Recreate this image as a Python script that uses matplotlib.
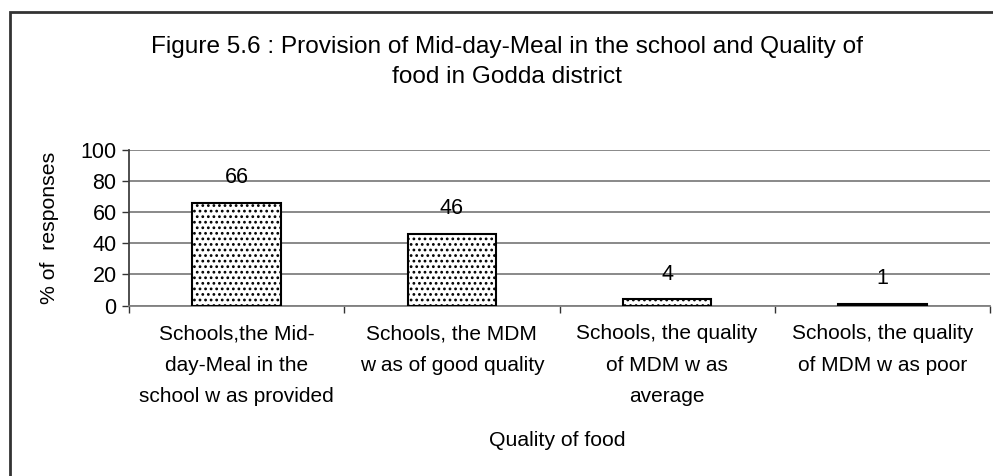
import matplotlib
matplotlib.use("Agg")
import matplotlib.pyplot as plt
from matplotlib.patches import Rectangle

plt.rcParams['font.family'] = ['Liberation Sans', 'DejaVu Sans']
plt.rcParams['hatch.color'] = '#707070'
plt.rcParams['hatch.linewidth'] = 1.2

categories = [
    "Schools,the Mid-\nday-Meal in the\nschool w as provided",
    "Schools, the MDM\nw as of good quality",
    "Schools, the quality\nof MDM w as\naverage",
    "Schools, the quality\nof MDM w as poor",
]
values = [66, 46, 4, 1]
yticks = [0, 20, 40, 60, 80, 100]
title = "Figure 5.6 : Provision of Mid-day-Meal in the school and Quality of\nfood in Godda district"
xlabel = "Quality of food"
ylabel = "% of  responses"

W, H = 993, 476
fig = plt.figure(figsize=(W / 100, H / 100), dpi=100)

def fx(px):
    return px / W

def fy(py):
    return 1 - py / H

# outer frame
fig.patches.append(Rectangle((fx(10), fy(1000)), 2, fy(12) - fy(1000),
                             transform=fig.transFigure, fill=False,
                             edgecolor='#333333', linewidth=2))

ax = fig.add_axes([fx(129), fy(305.5), fx(990) - fx(129), fy(150) - fy(305.5)])
x = list(range(len(categories)))
bars = ax.bar(x, values, width=0.41, color='white', edgecolor='black',
              linewidth=1.5, hatch='...', zorder=3)
ax.set_xlim(-0.5, len(categories) - 0.5)
ax.set_ylim(0, 100)
ax.set_yticks(yticks)
ax.set_yticklabels([str(t) for t in yticks], fontsize=15.5)
ax.yaxis.grid(True, color='#808080', linewidth=1.3, zorder=0)
ax.set_axisbelow(True)

ax.set_xticks(x)
ax.set_xticklabels(categories, fontsize=15, linespacing=1.83)
ax.tick_params(axis='x', length=0, pad=13.5)
ax.set_xticks([i - 0.5 for i in range(len(categories) + 1)], minor=True)
ax.tick_params(axis='x', which='minor', length=5, width=1, color='#333333', direction='out')
ax.tick_params(axis='y', length=5, width=1, color='#333333', direction='out', pad=4)

for s in ['top', 'right']:
    ax.spines[s].set_visible(False)
ax.spines['left'].set_color('#404040')
ax.spines['left'].set_linewidth(1.3)
ax.spines['bottom'].set_color('#808080')
ax.spines['bottom'].set_linewidth(1.3)

for xi, v in zip(x, values):
    ax.annotate(str(v), (xi, v), xytext=(0, 18), textcoords='offset points',
                ha='center', va='center', fontsize=15.5)

fig.text(fx(507), fy(62), title, ha='center', va='center', fontsize=17.6,
         linespacing=1.48)
fig.text(fx(557), fy(440), xlabel, ha='center', va='center', fontsize=15.3)
fig.text(fx(50), fy(228), ylabel, ha='center', va='center', fontsize=15.3,
         rotation=90)

fig.savefig('out.png', dpi=100)
